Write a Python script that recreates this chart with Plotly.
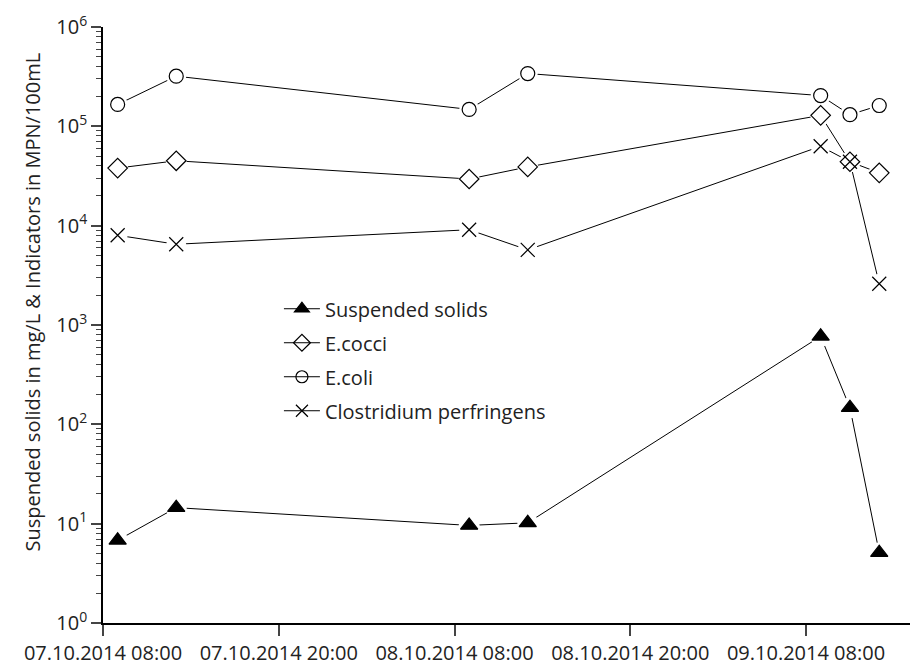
import plotly.graph_objects as go

times = ["2014-10-07 09:00", "2014-10-07 13:00", "2014-10-08 09:00", "2014-10-08 13:00",
         "2014-10-09 09:00", "2014-10-09 11:00", "2014-10-09 13:00"]
suspended_solids = [6.8, 14.5, 9.6, 10.2, 770, 147, 5.1]
e_cocci = [3.8e4, 4.5e4, 2.95e4, 3.9e4, 1.29e5, 4.4e4, 3.4e4]
e_coli = [1.66e5, 3.2e5, 1.48e5, 3.4e5, 2.04e5, 1.31e5, 1.62e5]
clostridium = [8.0e3, 6.5e3, 9.1e3, 5.7e3, 6.3e4, 4.4e4, 2.6e3]

names = ["Suspended solids", "E.cocci", "E.coli", "Clostridium perfringens"]
y_tickvals = [1, 10, 100, 1000, 1e4, 1e5, 1e6]
y_ticktext = ["10<sup>0</sup>", "10<sup>1</sup>", "10<sup>2</sup>", "10<sup>3</sup>",
              "10<sup>4</sup>", "10<sup>5</sup>", "10<sup>6</sup>"]
y_title = "Suspended solids in mg/L & Indicators in MPN/100mL"

series = [suspended_solids, e_cocci, e_coli, clostridium]
symbols = ["triangle-up", "diamond-open", "circle-open", "x-thin-open"]
sizes = [15, 15, 14, 14]

FONT = "Open Sans"
TXT = "#222222"
fig = go.Figure()

# lines
for ys in series:
    fig.add_trace(go.Scatter(x=times, y=ys, mode="lines", line=dict(color="black", width=1),
                             showlegend=False, hoverinfo="skip"))
# white halos to create small gaps around markers
for ys, sz in zip(series, sizes):
    fig.add_trace(go.Scatter(x=times, y=ys, mode="markers",
                             marker=dict(symbol="circle", size=sz + 6, color="white", line=dict(width=0)),
                             showlegend=False, hoverinfo="skip"))
# markers
for ys, sym, sz in zip(series, symbols, sizes):
    mk = dict(symbol=sym, size=sz, color="black", line=dict(color="black", width=1.2))
    fig.add_trace(go.Scatter(x=times, y=ys, mode="markers", marker=mk, showlegend=False))
# legend entries
for nm, sym, sz in zip(names, symbols, sizes):
    fig.add_trace(go.Scatter(x=[None], y=[None], mode="lines+markers", name=nm, legendgroup=nm,
                             line=dict(color="black", width=1),
                             marker=dict(symbol=sym, size=sz - 2, color="black",
                                         line=dict(color="black", width=1.2))))

fig.add_annotation(text=y_title, xref="paper", yref="paper", x=-0.087, y=0.539,
                   xanchor="center", yanchor="middle", textangle=-90, showarrow=False,
                   font=dict(size=20, family=FONT, color=TXT))

fig.update_layout(
    width=910, height=666,
    margin=dict(l=103, r=0, t=27, b=40),
    plot_bgcolor="white", paper_bgcolor="white",
    font=dict(family=FONT, size=20, color=TXT),
    showlegend=True,
    legend=dict(x=0.218, y=0.56, xanchor="left", yanchor="top", bgcolor="rgba(0,0,0,0)",
                font=dict(size=20, family=FONT, color=TXT), itemwidth=36,
                traceorder="grouped", tracegroupgap=5),
    xaxis=dict(type="date", range=["2014-10-07 08:00", "2014-10-09 15:06"],
               tick0="2014-10-07 08:00", dtick=12 * 3600 * 1000,
               tickformat="%d.%m.%Y %H:%M", ticks="outside", ticklen=11, tickwidth=1.5,
               showline=True, linecolor="black", linewidth=1.5, showgrid=False, zeroline=False,
               tickfont=dict(size=20, family=FONT, color=TXT)),
    yaxis=dict(type="log", range=[0, 6], tickmode="array", tickvals=y_tickvals, ticktext=y_ticktext,
               ticks="outside", ticklen=10, tickwidth=1.5,
               minor=dict(ticks="outside", ticklen=5, tickwidth=1, dtick="D1", showgrid=False),
               showline=True, linecolor="black", linewidth=1.5, showgrid=False, zeroline=False,
               tickfont=dict(size=20, family=FONT, color=TXT)),
)

fig.write_html("out.html")
